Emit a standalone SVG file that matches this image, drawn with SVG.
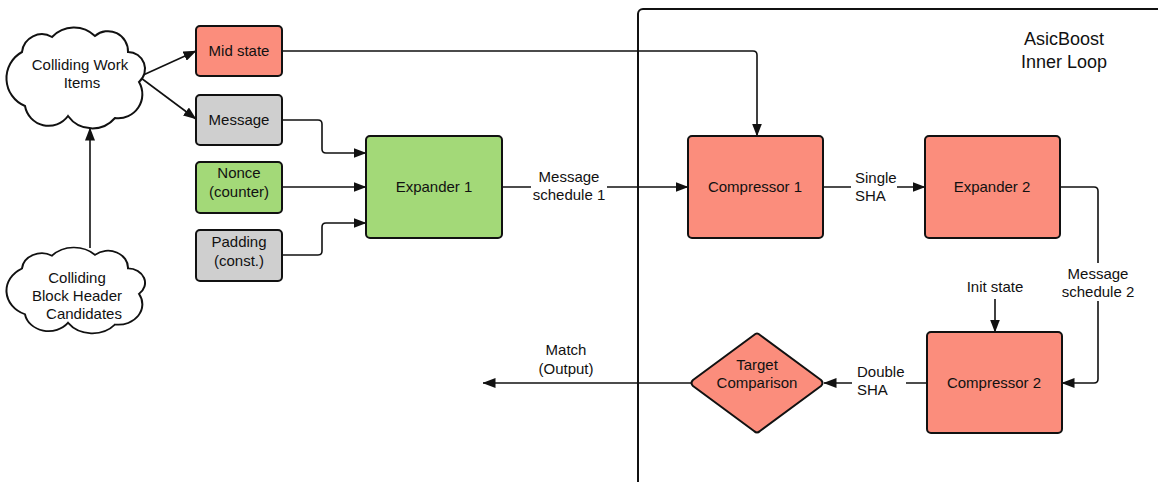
<svg xmlns="http://www.w3.org/2000/svg" width="1158" height="482" viewBox="0 0 1158 482">
  <style>
    text { font-family: "Liberation Sans", Arial, sans-serif; font-size: 15px; fill: #111; }
    .c { text-anchor: middle; }
    .s { text-anchor: start; }
    .node { stroke: #111; stroke-width: 2; }
    .red { fill: #fb8d7c; }
    .green { fill: #a3d978; }
    .gray { fill: #cfcfcf; }
    .cloud { fill: #fff; stroke: #111; stroke-width: 2; }
    .conn { fill: none; stroke: #111; stroke-width: 1.6; }
    .arr { marker-end: url(#arr); }
    .bg { fill: #fff; stroke: none; }
    .title { font-size: 18px; }
  </style>
  <defs>
    <marker id="arr" viewBox="0 0 13 10" refX="12.5" refY="5" markerWidth="13" markerHeight="10" markerUnits="userSpaceOnUse" orient="auto">
      <path d="M0,0 L13,5 L0,10 z" fill="#111"/>
    </marker>
    <path id="cloudShape" d="M22,52 A20 20 0 0 1 52,37 A30 30 0 0 1 95,36 A20 20 0 0 1 128,52 A17 17 0 0 1 139,82 A24 24 0 0 1 115,118 A30 30 0 0 1 68,116 A24 24 0 0 1 25,106 A30 30 0 0 1 22,52 Z"/>
  </defs>

  <rect x="0" y="0" width="1158" height="482" fill="#fff"/>

  <!-- frame -->
  <g id="frame">
    <rect x="638" y="9" width="560" height="520" rx="5" fill="none" stroke="#111" stroke-width="2"/>
    <text class="c title" x="1064" y="45">AsicBoost</text>
    <text class="c title" x="1064" y="68">Inner Loop</text>
  </g>

  <!-- connectors -->
  <g id="connectors">
    <line class="conn arr" x1="141" y1="76" x2="196" y2="51"/>
    <line class="conn arr" x1="141" y1="78" x2="196" y2="119"/>
    <line class="conn arr" x1="90" y1="248" x2="90" y2="128"/>
    <path class="conn arr" d="M282,51 H753 Q757,51 757,55 V136"/>
    <path class="conn arr" d="M282,120 H318 Q322,120 322,124 V149 Q322,153 326,153 H366"/>
    <line class="conn arr" x1="282" y1="187" x2="366" y2="187"/>
    <path class="conn arr" d="M282,255 H318 Q322,255 322,251 V227 Q322,223 326,223 H366"/>
    <line class="conn arr" x1="502" y1="187" x2="688" y2="187"/>
    <line class="conn arr" x1="823" y1="187" x2="925" y2="187"/>
    <path class="conn arr" d="M1060,187 H1094 Q1098,187 1098,191 V379 Q1098,383 1094,383 H1062"/>
    <line class="conn arr" x1="995" y1="299" x2="995" y2="332"/>
    <line class="conn arr" x1="927" y1="383" x2="824" y2="383"/>
    <line class="conn arr" x1="691" y1="383" x2="483" y2="383"/>

    <rect class="bg" x="531" y="167" width="76" height="38"/>
    <text class="c" x="569" y="182">Message</text>
    <text class="c" x="569" y="200">schedule 1</text>

    <rect class="bg" x="851" y="168" width="46" height="38"/>
    <text class="s" x="855" y="183">Single</text>
    <text class="s" x="855" y="201">SHA</text>

    <rect class="bg" x="1060" y="263" width="76" height="38"/>
    <text class="c" x="1098" y="279">Message</text>
    <text class="c" x="1098" y="297">schedule 2</text>

    <text class="c" x="995" y="292">Init state</text>

    <rect class="bg" x="852" y="362" width="54" height="38"/>
    <text class="s" x="857" y="377">Double</text>
    <text class="s" x="857" y="395">SHA</text>

    <text class="c" x="566" y="355">Match</text>
    <text class="c" x="566" y="374">(Output)</text>
  </g>

  <g id="cloud-work">
    <use href="#cloudShape" class="cloud"/>
    <text class="c" x="80" y="70">Colliding Work</text>
    <text class="c" x="82" y="88">Items</text>
  </g>

  <g id="cloud-candidates">
    <use href="#cloudShape" class="cloud" transform="translate(0,224.2) scale(1,0.85)" vector-effect="non-scaling-stroke"/>
    <text class="c" x="77" y="283">Colliding</text>
    <text class="c" x="77" y="301">Block Header</text>
    <text class="c" x="84" y="319">Candidates</text>
  </g>

  <g id="mid-state">
    <rect class="node red" x="196" y="26" width="86" height="50" rx="4"/>
    <text class="c" x="239" y="56">Mid state</text>
  </g>

  <g id="message">
    <rect class="node gray" x="196" y="95" width="86" height="50" rx="4"/>
    <text class="c" x="239" y="125">Message</text>
  </g>

  <g id="nonce">
    <rect class="node green" x="196" y="162" width="86" height="51" rx="4"/>
    <text class="c" x="239" y="178">Nonce</text>
    <text class="c" x="239" y="197">(counter)</text>
  </g>

  <g id="padding">
    <rect class="node gray" x="196" y="230" width="86" height="51" rx="4"/>
    <text class="c" x="239" y="247">Padding</text>
    <text class="c" x="239" y="266">(const.)</text>
  </g>

  <g id="expander-1">
    <rect class="node green" x="366" y="136" width="136" height="102" rx="4"/>
    <text class="c" x="434" y="192">Expander 1</text>
  </g>

  <g id="compressor-1">
    <rect class="node red" x="688" y="136" width="135" height="102" rx="4"/>
    <text class="c" x="755" y="192">Compressor 1</text>
  </g>

  <g id="expander-2">
    <rect class="node red" x="925" y="136" width="135" height="102" rx="4"/>
    <text class="c" x="992" y="192">Expander 2</text>
  </g>

  <g id="compressor-2">
    <rect class="node red" x="927" y="332" width="135" height="101" rx="4"/>
    <text class="c" x="994" y="388">Compressor 2</text>
  </g>

  <g id="target-comparison">
    <path class="node red" d="M754,335 Q757,332 760,335 L821,380 Q824,383 821,386 L760,431 Q757,434 754,431 L693,386 Q690,383 693,380 Z" stroke-linejoin="round"/>
    <text class="c" x="757" y="370">Target</text>
    <text class="c" x="757" y="388">Comparison</text>
  </g>
</svg>
